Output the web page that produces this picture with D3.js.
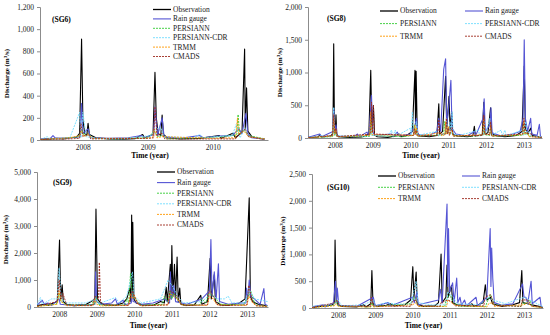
<!DOCTYPE html>
<html>
<head>
<meta charset="utf-8">
<script src="https://cdn.jsdelivr.net/npm/d3@7"></script>
<style>
  body { margin: 0; background: #fff; }
  svg { display: block; }
  text { font-family: "Liberation Serif", "Times New Roman", serif; }
</style>
</head>
<body>
<svg id="chart" width="550" height="335"></svg>
<script>
// series names, legend order
const seriesNames = ['Observation', 'Rain gauge', 'PERSIANN', 'PERSIANN-CDR', 'TRMM', 'CMADS'];
const yearLabels = [2008, 2009, 2010, 2011, 2012, 2013];

// ---- SG6 (decimal year, m3/s) ----
const sg6Obs = [[2007.85,5],[2007.95,8],[2008.1,15],[2008.2,10],[2008.3,20],[2008.4,25],[2008.45,60],[2008.48,910],[2008.5,180],[2008.53,60],[2008.56,40],[2008.58,150],[2008.6,50],[2008.7,20],[2008.9,10],[2009.1,8],[2009.3,12],[2009.42,50],[2009.45,20],[2009.58,50],[2009.61,610],[2009.63,200],[2009.66,60],[2009.7,40],[2009.72,225],[2009.74,50],[2009.8,20],[2010.0,10],[2010.3,15],[2010.6,40],[2010.63,15],[2010.81,60],[2010.85,20],[2010.95,70],[2010.99,820],[2011.0,100],[2011.02,470],[2011.04,80],[2011.1,30],[2011.2,15],[2011.3,10]];
const sg6Rain = [[2007.85,10],[2008.0,15],[2008.04,40],[2008.08,15],[2008.3,20],[2008.46,30],[2008.48,330],[2008.5,60],[2008.58,100],[2008.62,20],[2008.9,15],[2009.2,20],[2009.4,40],[2009.45,20],[2009.59,50],[2009.61,300],[2009.65,40],[2009.72,200],[2009.75,30],[2010.0,15],[2010.3,40],[2010.35,20],[2010.6,35],[2010.8,40],[2010.9,100],[2010.95,60],[2011.01,240],[2011.04,60],[2011.1,20],[2011.3,10]];
const sg6Pers = [[2007.85,5],[2008.2,15],[2008.44,30],[2008.48,100],[2008.52,40],[2008.58,60],[2008.65,15],[2009.0,10],[2009.5,20],[2009.6,80],[2009.65,30],[2009.72,40],[2009.8,10],[2010.4,20],[2010.8,40],[2010.87,50],[2010.89,230],[2010.91,60],[2010.98,90],[2011.05,40],[2011.3,10]];
const sg6Cdr = [[2007.85,5],[2007.95,30],[2008.0,10],[2008.3,20],[2008.45,250],[2008.47,20],[2008.5,250],[2008.55,30],[2008.7,15],[2009.1,10],[2009.55,40],[2009.62,100],[2009.7,110],[2009.75,30],[2010.2,20],[2010.3,50],[2010.35,20],[2010.8,40],[2010.86,140],[2010.92,20],[2011.0,110],[2011.05,30],[2011.3,10]];
const sg6Trmm = [[2007.85,5],[2008.3,20],[2008.45,40],[2008.48,80],[2008.52,30],[2008.58,50],[2008.65,15],[2009.4,15],[2009.57,20],[2009.6,100],[2009.64,20],[2009.72,30],[2010.5,15],[2010.85,20],[2010.88,200],[2010.9,50],[2010.98,80],[2011.05,30],[2011.3,10]];
const sg6Cmads = [[2007.85,5],[2008.3,10],[2008.45,15],[2008.47,150],[2008.5,30],[2008.58,60],[2008.62,10],[2009.5,15],[2009.59,20],[2009.61,300],[2009.64,40],[2009.72,60],[2009.76,10],[2010.85,10],[2010.9,50],[2011.0,100],[2011.05,30],[2011.3,5]];

// ---- SG8 ----
const sg8Obs = [[2007.8,10],[2008.05,15],[2008.1,50],[2008.15,15],[2008.4,30],[2008.45,80],[2008.47,1440],[2008.49,150],[2008.51,60],[2008.53,356],[2008.55,60],[2008.6,20],[2008.9,10],[2009.2,15],[2009.3,30],[2009.4,60],[2009.45,1033],[2009.48,100],[2009.52,494],[2009.55,50],[2009.62,20],[2009.9,10],[2010.1,30],[2010.2,60],[2010.25,20],[2010.4,40],[2010.55,100],[2010.62,1033],[2010.635,200],[2010.65,1020],[2010.68,80],[2010.75,30],[2011.0,20],[2011.2,40],[2011.25,524],[2011.27,60],[2011.35,100],[2011.43,941],[2011.46,150],[2011.52,636],[2011.55,120],[2011.59,400],[2011.62,60],[2011.75,30],[2012.0,20],[2012.15,30],[2012.19,180],[2012.22,30],[2012.4,50],[2012.44,545],[2012.47,60],[2012.55,80],[2012.62,460],[2012.65,60],[2012.8,30],[2013.0,20],[2013.3,40],[2013.45,100],[2013.51,1100],[2013.54,150],[2013.6,60],[2013.68,150],[2013.72,40],[2013.9,20],[2013.97,10]];
const sg8Rain = [[2007.8,10],[2008.1,60],[2008.15,20],[2008.45,100],[2008.47,450],[2008.5,80],[2008.53,200],[2008.56,30],[2009.0,20],[2009.1,60],[2009.15,20],[2009.35,90],[2009.4,30],[2009.47,650],[2009.5,100],[2009.55,40],[2010.0,60],[2010.05,20],[2010.15,90],[2010.2,30],[2010.5,60],[2010.62,200],[2010.66,300],[2010.7,50],[2011.0,40],[2011.2,100],[2011.25,300],[2011.3,100],[2011.38,1050],[2011.43,1210],[2011.46,200],[2011.5,400],[2011.57,880],[2011.6,150],[2011.7,60],[2011.9,40],[2012.0,30],[2012.19,100],[2012.22,30],[2012.42,300],[2012.45,600],[2012.48,100],[2012.6,200],[2012.63,460],[2012.66,80],[2012.9,30],[2013.2,60],[2013.4,100],[2013.48,300],[2013.51,1500],[2013.54,300],[2013.6,100],[2013.68,300],[2013.71,60],[2013.85,40],[2013.91,210],[2013.94,20],[2013.97,10]];
const sg8Pers = [[2007.8,5],[2008.44,20],[2008.47,200],[2008.5,40],[2008.53,100],[2008.56,20],[2009.3,20],[2009.43,30],[2009.45,250],[2009.48,40],[2010.3,20],[2010.58,40],[2010.6,200],[2010.63,60],[2010.65,150],[2010.68,30],[2011.2,40],[2011.38,50],[2011.4,250],[2011.43,60],[2011.5,150],[2011.53,50],[2011.6,80],[2011.65,30],[2012.2,30],[2012.42,40],[2012.44,200],[2012.47,50],[2012.6,40],[2012.62,150],[2012.65,30],[2013.4,40],[2013.48,50],[2013.5,200],[2013.53,50],[2013.6,80],[2013.63,30],[2013.97,10]];
const sg8Cdr = [[2007.8,10],[2008.2,40],[2008.25,15],[2008.45,40],[2008.47,470],[2008.5,60],[2008.6,30],[2009.2,40],[2009.25,15],[2009.43,40],[2009.45,200],[2009.48,40],[2009.9,30],[2010.0,120],[2010.03,20],[2010.1,120],[2010.13,30],[2010.5,150],[2010.52,40],[2010.55,400],[2010.58,60],[2010.66,250],[2010.69,40],[2011.2,100],[2011.23,30],[2011.43,60],[2011.45,300],[2011.48,60],[2011.55,250],[2011.58,60],[2011.6,400],[2011.63,60],[2011.8,40],[2012.3,120],[2012.33,30],[2012.43,50],[2012.45,250],[2012.48,50],[2012.6,300],[2012.63,40],[2012.9,120],[2012.93,30],[2013.0,120],[2013.03,30],[2013.45,120],[2013.48,40],[2013.55,250],[2013.58,50],[2013.65,100],[2013.68,30],[2013.97,20]];
const sg8Trmm = [[2007.8,5],[2008.44,30],[2008.47,300],[2008.5,60],[2008.53,120],[2008.56,20],[2009.42,40],[2009.45,400],[2009.48,50],[2010.58,40],[2010.62,200],[2010.64,60],[2010.66,160],[2010.69,30],[2011.3,80],[2011.33,30],[2011.41,50],[2011.43,250],[2011.46,60],[2011.5,180],[2011.53,50],[2011.6,120],[2011.63,30],[2012.41,50],[2012.44,300],[2012.47,60],[2012.6,50],[2012.62,200],[2012.65,30],[2013.47,50],[2013.5,250],[2013.53,60],[2013.6,80],[2013.63,20],[2013.97,10]];
const sg8Cmads = [[2007.8,5],[2008.44,40],[2008.47,360],[2008.5,80],[2008.53,150],[2008.56,20],[2009.44,60],[2009.47,550],[2009.5,80],[2009.52,500],[2009.55,60],[2010.58,40],[2010.6,150],[2010.62,50],[2010.65,120],[2010.68,30],[2011.22,40],[2011.25,280],[2011.28,60],[2011.43,60],[2011.45,300],[2011.48,60],[2011.5,150],[2011.53,40],[2011.6,160],[2011.63,30],[2012.41,40],[2012.44,350],[2012.47,60],[2012.6,50],[2012.62,250],[2012.65,30],[2013.47,60],[2013.5,300],[2013.53,80],[2013.7,60],[2013.73,20],[2013.97,10]];

// ---- SG9 ----
const sg9Obs = [[2007.92,50],[2008.1,100],[2008.2,60],[2008.35,150],[2008.45,200],[2008.51,2480],[2008.54,300],[2008.58,823],[2008.61,200],[2008.7,100],[2008.9,50],[2009.2,80],[2009.35,200],[2009.45,300],[2009.48,3624],[2009.52,300],[2009.6,150],[2009.7,80],[2010.0,60],[2010.2,150],[2010.3,300],[2010.38,700],[2010.41,200],[2010.43,3403],[2010.45,400],[2010.46,3133],[2010.49,300],[2010.55,150],[2010.7,80],[2011.0,60],[2011.2,200],[2011.3,150],[2011.35,730],[2011.38,200],[2011.46,1580],[2011.48,300],[2011.5,2273],[2011.53,400],[2011.57,1580],[2011.6,300],[2011.64,1850],[2011.67,200],[2011.71,700],[2011.74,100],[2011.9,60],[2012.1,80],[2012.27,430],[2012.3,100],[2012.45,200],[2012.52,1806],[2012.55,300],[2012.63,1200],[2012.66,200],[2012.8,80],[2013.0,60],[2013.3,150],[2013.45,300],[2013.56,4042],[2013.59,400],[2013.65,200],[2013.8,100],[2014.0,50]];
const sg9Rain = [[2007.92,80],[2008.05,250],[2008.1,100],[2008.2,150],[2008.3,60],[2008.5,300],[2008.53,100],[2008.9,50],[2009.1,100],[2009.2,60],[2009.45,100],[2009.47,1300],[2009.5,200],[2009.6,100],[2009.9,150],[2010.0,300],[2010.05,100],[2010.2,250],[2010.25,80],[2010.42,150],[2010.44,600],[2010.47,200],[2010.7,100],[2011.0,150],[2011.3,300],[2011.44,150],[2011.46,1300],[2011.49,300],[2011.55,800],[2011.6,200],[2011.9,100],[2012.3,300],[2012.5,600],[2012.54,2500],[2012.57,400],[2012.63,1300],[2012.68,300],[2012.74,1600],[2012.77,200],[2013.0,100],[2013.35,150],[2013.47,150],[2013.49,700],[2013.52,300],[2013.56,1000],[2013.6,400],[2013.7,300],[2013.85,100],[2013.95,680],[2013.98,100],[2014.05,50]];
const sg9Pers = [[2007.92,30],[2008.4,100],[2008.45,150],[2008.5,500],[2008.55,200],[2008.7,80],[2009.38,80],[2009.4,200],[2009.45,100],[2009.48,400],[2009.55,100],[2009.7,60],[2010.25,80],[2010.3,300],[2010.35,150],[2010.4,1250],[2010.45,400],[2010.6,200],[2010.7,60],[2011.25,100],[2011.3,400],[2011.4,200],[2011.45,600],[2011.5,300],[2011.55,500],[2011.7,200],[2011.8,60],[2012.25,80],[2012.3,300],[2012.4,150],[2012.5,500],[2012.6,400],[2012.8,100],[2013.4,80],[2013.5,300],[2013.6,600],[2013.7,150],[2013.8,50],[2014.05,30]];
const sg9Cdr = [[2007.92,100],[2008.0,350],[2008.05,100],[2008.3,300],[2008.45,300],[2008.5,1450],[2008.55,300],[2008.7,150],[2009.2,150],[2009.4,250],[2009.48,300],[2009.55,120],[2009.9,300],[2010.0,350],[2010.1,150],[2010.3,400],[2010.45,1300],[2010.5,400],[2010.7,150],[2011.2,300],[2011.4,1000],[2011.55,700],[2011.65,400],[2011.8,150],[2012.3,200],[2012.55,500],[2012.7,300],[2012.9,300],[2013.0,400],[2013.1,150],[2013.45,150],[2013.55,700],[2013.7,300],[2014.05,200]];
const sg9Trmm = [[2007.92,20],[2008.45,100],[2008.5,600],[2008.55,200],[2008.7,50],[2009.4,50],[2009.45,300],[2009.5,100],[2009.6,40],[2010.35,60],[2010.4,500],[2010.45,300],[2010.5,450],[2010.6,100],[2010.7,40],[2011.4,80],[2011.45,500],[2011.55,400],[2011.65,300],[2011.75,80],[2012.45,60],[2012.5,400],[2012.6,300],[2012.7,80],[2013.5,60],[2013.55,400],[2013.65,150],[2013.75,40],[2014.05,20]];
const sg9Cmads = [[2007.92,30],[2008.45,200],[2008.5,1000],[2008.55,300],[2008.6,500],[2008.7,80],[2009.4,60],[2009.45,400],[2009.55,300],[2009.57,1650],[2009.6,200],[2009.7,80],[2010.35,60],[2010.4,400],[2010.45,600],[2010.5,400],[2010.6,100],[2010.7,50],[2011.4,80],[2011.45,600],[2011.55,500],[2011.65,400],[2011.75,100],[2011.85,50],[2012.45,80],[2012.5,600],[2012.6,400],[2012.7,100],[2012.8,50],[2013.5,80],[2013.55,800],[2013.65,200],[2013.75,50],[2014.05,30]];

// ---- SG10 ----
const sg10Obs = [[2007.8,10],[2008.0,30],[2008.2,40],[2008.35,60],[2008.4,100],[2008.42,1270],[2008.45,150],[2008.5,60],[2008.6,30],[2009.0,20],[2009.2,60],[2009.25,20],[2009.38,80],[2009.41,697],[2009.44,80],[2009.55,30],[2009.8,50],[2009.9,80],[2010.0,40],[2010.3,60],[2010.45,150],[2010.51,771],[2010.54,200],[2010.6,672],[2010.63,80],[2010.8,30],[2011.1,40],[2011.2,100],[2011.27,1007],[2011.3,100],[2011.4,200],[2011.43,800],[2011.46,200],[2011.55,420],[2011.58,100],[2011.7,60],[2012.0,40],[2012.1,80],[2012.15,30],[2012.4,100],[2012.46,435],[2012.5,150],[2012.6,200],[2012.65,80],[2012.9,30],[2013.2,60],[2013.38,100],[2013.44,700],[2013.47,100],[2013.6,80],[2013.7,60],[2013.9,30],[2014.0,10]];
const sg10Rain = [[2007.8,20],[2008.1,60],[2008.15,20],[2008.38,100],[2008.43,500],[2008.46,100],[2008.48,370],[2008.52,50],[2009.0,30],[2009.45,200],[2009.5,40],[2009.85,100],[2009.9,40],[2010.0,60],[2010.5,200],[2010.55,100],[2010.62,300],[2010.66,60],[2011.2,150],[2011.25,350],[2011.3,100],[2011.43,1940],[2011.45,400],[2011.47,1480],[2011.5,300],[2011.58,470],[2011.62,100],[2011.69,560],[2011.72,100],[2011.78,200],[2011.82,50],[2011.9,150],[2011.95,40],[2012.21,200],[2012.25,40],[2012.5,200],[2012.59,1480],[2012.61,400],[2012.63,1120],[2012.66,550],[2012.7,100],[2012.9,50],[2013.2,80],[2013.46,450],[2013.5,200],[2013.55,200],[2013.6,80],[2013.69,500],[2013.72,80],[2013.93,200],[2013.96,30],[2014.0,10]];
const sg10Pers = [[2007.8,10],[2008.4,50],[2008.45,150],[2008.5,40],[2009.38,20],[2009.4,100],[2009.45,30],[2010.45,80],[2010.55,200],[2010.62,100],[2010.7,30],[2011.37,30],[2011.4,150],[2011.5,250],[2011.6,100],[2011.75,30],[2012.47,30],[2012.5,100],[2012.6,250],[2012.7,60],[2013.42,30],[2013.45,100],[2013.55,80],[2013.65,150],[2013.72,30],[2014.0,10]];
const sg10Cdr = [[2007.8,30],[2008.2,60],[2008.45,100],[2008.5,150],[2008.6,40],[2009.2,60],[2009.45,150],[2009.5,40],[2009.8,100],[2010.0,80],[2010.45,60],[2010.5,200],[2010.6,500],[2010.65,100],[2011.0,60],[2011.42,60],[2011.45,300],[2011.6,200],[2011.7,80],[2012.3,60],[2012.55,200],[2012.65,150],[2012.9,100],[2013.0,80],[2013.5,200],[2013.65,150],[2014.0,30]];
const sg10Trmm = [[2007.8,10],[2008.4,40],[2008.45,80],[2008.5,30],[2009.37,20],[2009.4,60],[2009.45,20],[2010.5,60],[2010.6,100],[2010.65,30],[2011.42,30],[2011.45,150],[2011.55,100],[2011.65,50],[2012.5,20],[2012.55,80],[2012.65,100],[2012.7,30],[2013.5,60],[2013.6,100],[2013.7,30],[2014.0,10]];
const sg10Cmads = [[2007.8,10],[2008.1,50],[2008.3,80],[2008.42,100],[2008.47,150],[2008.55,40],[2009.37,30],[2009.4,200],[2009.45,40],[2010.45,30],[2010.5,120],[2010.6,150],[2010.65,40],[2011.24,30],[2011.27,100],[2011.45,150],[2011.55,120],[2011.65,40],[2012.42,40],[2012.45,200],[2012.6,250],[2012.7,50],[2013.42,30],[2013.45,150],[2013.6,150],[2013.7,40],[2014.0,10]];

// y tick values per panel
const sg6Ticks = [0, 200, 400, 600, 800, 1000, 1200];
const sg8Ticks = [0, 500, 1000, 1500, 2000];
const sg9Ticks = [0, 1000, 2000, 3000, 4000, 5000];
const sg10Ticks = [0, 500, 1000, 1500, 2000, 2500];

// styles per series
const styles = [
    { color: '#000000', width: 1.1, dash: null },
    { color: '#5454d4', width: 1.1, dash: null },
    { color: '#33cc33', width: 0.9, dash: '2,1' },
    { color: '#70dcff', width: 0.9, dash: '2,1' },
    { color: '#ff9900', width: 0.9, dash: '2,1' },
    { color: '#9e2a1e', width: 0.9, dash: '2,1' }
];

const serif = '"Liberation Serif", "Times New Roman", serif';

const panels = [
    { name: '(SG6)', series: [sg6Obs, sg6Rain, sg6Pers, sg6Cdr, sg6Trmm, sg6Cmads], ticks: sg6Ticks, years: yearLabels.slice(0, 3),
      left: 40, right: 268, top: 7, bottom: 140, t0: 2007.84, t1: 2011.35,
      nameX: 52, nameY: 22, ylabX: 9, xlabY: 158, legX: 153, legY: 9.5, legCols: 1, legDy: 9.4, legDx: 0 },
    { name: '(SG8)', series: [sg8Obs, sg8Rain, sg8Pers, sg8Cdr, sg8Trmm, sg8Cmads], ticks: sg8Ticks, years: yearLabels,
      left: 308, right: 542, top: 7, bottom: 138, t0: 2007.79, t1: 2013.98,
      nameX: 327, nameY: 21, ylabX: 282, xlabY: 158, legX: 380, legY: 11, legCols: 2, legDy: 12.6, legDx: 85 },
    { name: '(SG9)', series: [sg9Obs, sg9Rain, sg9Pers, sg9Cdr, sg9Trmm, sg9Cmads], ticks: sg9Ticks, years: yearLabels,
      left: 37, right: 268, top: 172, bottom: 307, t0: 2007.91, t1: 2014.06,
      nameX: 53, nameY: 185, ylabX: 8, xlabY: 328, legX: 157, legY: 172, legCols: 1, legDy: 10.6, legDx: 0 },
    { name: '(SG10)', series: [sg10Obs, sg10Rain, sg10Pers, sg10Cdr, sg10Trmm, sg10Cmads], ticks: sg10Ticks, years: yearLabels,
      left: 312, right: 543, top: 174, bottom: 308, t0: 2007.80, t1: 2014.01,
      nameX: 327, nameY: 190, ylabX: 285, xlabY: 328, legX: 378, legY: 176, legCols: 2, legDy: 11.3, legDx: 84 }
];

const svg = d3.select('#chart');

panels.forEach((p, pi) => {
    const x = d3.scaleLinear().domain([p.t0, p.t1]).range([p.left, p.right]);
    const y = d3.scaleLinear().domain([0, d3.max(p.ticks)]).range([p.bottom, p.top]);
    const g = svg.append('g');

    g.append('clipPath').attr('id', 'clip' + pi)
        .append('rect').attr('x', p.left).attr('y', p.top - 2)
        .attr('width', p.right - p.left).attr('height', p.bottom - p.top + 2);

    // y axis
    const yAxis = g.append('g')
        .attr('transform', `translate(${p.left},0)`)
        .call(d3.axisLeft(y).tickValues(p.ticks).tickSize(3).tickPadding(3).tickFormat(d3.format(',')));
    yAxis.attr('font-family', serif);
    yAxis.select('.domain').attr('stroke', '#8c8c8c');
    yAxis.selectAll('.tick line').attr('stroke', '#8c8c8c');
    yAxis.selectAll('text').style('font-size', '7.5px').style('font-family', serif).attr('fill', '#222');

    // series lines
    const line = d3.line().x(d => x(d[0])).y(d => y(d[1]));
    const lines = g.append('g').attr('clip-path', `url(#clip${pi})`);
    p.series.forEach((s, si) => {
        lines.append('path')
            .datum(s)
            .attr('d', line)
            .attr('fill', 'none')
            .attr('stroke', styles[si].color)
            .attr('stroke-width', styles[si].width)
            .attr('stroke-dasharray', styles[si].dash)
            .attr('stroke-linejoin', 'round');
    });

    // x axis
    const xAxis = g.append('g')
        .attr('transform', `translate(0,${p.bottom})`)
        .call(d3.axisBottom(x).tickValues(p.years.map(d => d + 0.5)).tickSize(0).tickPadding(5).tickFormat(d => Math.floor(d)));
    xAxis.attr('font-family', serif);
    xAxis.select('.domain').attr('stroke', '#8c8c8c');
    xAxis.selectAll('text').style('font-size', '7.5px').style('font-family', serif).attr('fill', '#222');

    // axis titles
    g.append('text')
        .attr('x', (p.left + p.right) / 2 - 4).attr('y', p.xlabY)
        .attr('text-anchor', 'middle')
        .style('font-family', serif)
        .style('font-size', '7.5px').style('font-weight', 'bold')
        .text('Time (year)');

    const yl = g.append('text')
        .attr('transform', `translate(${p.ylabX},${(p.top + p.bottom) / 2}) rotate(-90)`)
        .attr('text-anchor', 'middle')
        .style('font-family', serif)
        .style('font-size', '7px').style('font-weight', 'bold');
    yl.append('tspan').text('Discharge (m');
    yl.append('tspan').attr('baseline-shift', 'super').style('font-size', '5px').text('3');
    yl.append('tspan').text('/s)');

    g.append('text')
        .attr('x', p.nameX).attr('y', p.nameY)
        .style('font-family', serif)
        .style('font-size', '7.5px').style('font-weight', 'bold')
        .text(p.name);

    // legend
    seriesNames.forEach((n, i) => {
        const col = p.legCols === 2 ? i % 2 : 0;
        const row = p.legCols === 2 ? Math.floor(i / 2) : i;
        const lx = p.legX + col * p.legDx;
        const ly = p.legY + row * p.legDy;
        g.append('line')
            .attr('x1', lx).attr('x2', lx + 18).attr('y1', ly).attr('y2', ly)
            .attr('stroke', styles[i].color)
            .attr('stroke-width', i === 0 ? 1.3 : styles[i].width)
            .attr('stroke-dasharray', styles[i].dash);
        g.append('text')
            .attr('x', lx + 20).attr('y', ly).attr('dy', '0.33em')
            .style('font-family', serif)
            .style('font-size', '7.5px')
            .attr('fill', '#222')
            .text(n);
    });
});
</script>
</body>
</html>
